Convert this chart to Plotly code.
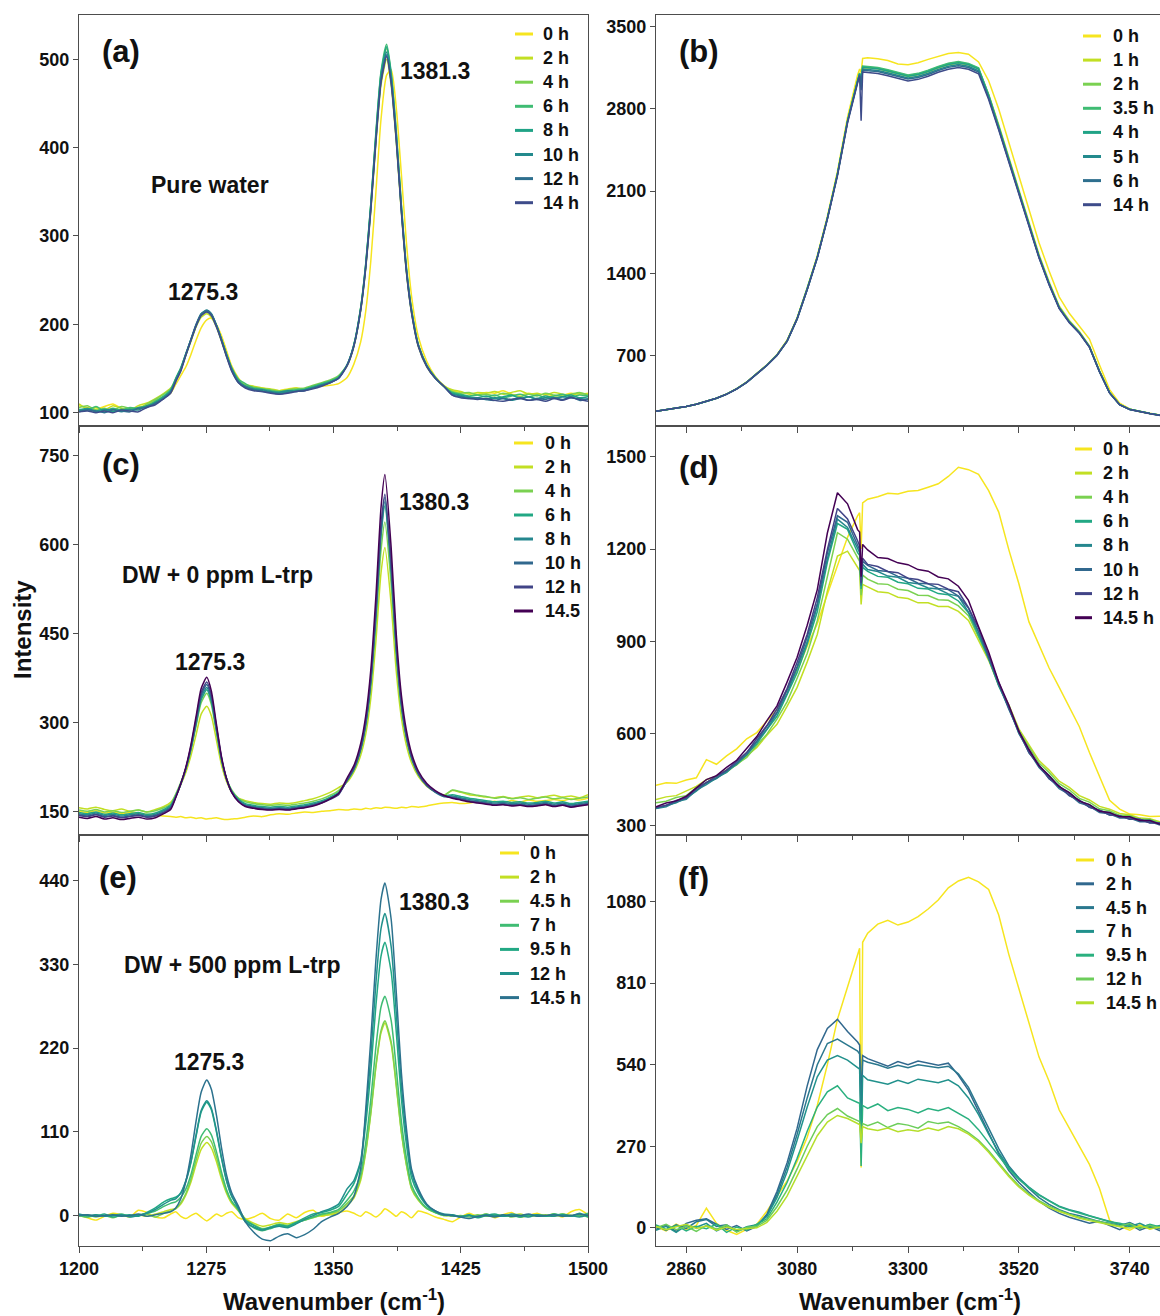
import plotly.graph_objects as go

# ---------------------------------------------------------------- wavenumber grids (cm^-1)
wn_a = [1200, 1205, 1210, 1215, 1220, 1225, 1230, 1235, 1240, 1245, 1250, 1254,
        1257, 1260, 1263, 1266, 1269, 1272, 1275.3, 1278, 1281, 1284, 1287, 1290, 1294,
        1298, 1303, 1308, 1313, 1318, 1323, 1328, 1333, 1338, 1343, 1348, 1353,
        1358, 1362, 1366, 1369, 1372, 1375, 1378, 1381.3, 1384, 1387, 1390, 1393, 1396, 1400, 1405, 1410, 1415,
        1420, 1425, 1430, 1435, 1440, 1445, 1450, 1455, 1460, 1465, 1470, 1475, 1480, 1485, 1490, 1495, 1500]
wn_ce = [1200, 1205, 1210, 1215, 1220, 1225, 1230, 1235, 1240, 1245, 1250, 1254,
         1257, 1260, 1263, 1266, 1269, 1272, 1275.3, 1278, 1281, 1284, 1287, 1290, 1294,
         1298, 1303, 1308, 1313, 1318, 1323, 1328, 1333, 1338, 1343, 1348, 1353,
         1358, 1362, 1366, 1369, 1372, 1375, 1378, 1380.3, 1384, 1387, 1390, 1393, 1396, 1400, 1405, 1410, 1415,
         1420, 1425, 1430, 1435, 1440, 1445, 1450, 1455, 1460, 1465, 1470, 1475, 1480, 1485, 1490, 1495, 1500]
wn_r = [2800, 2820, 2840, 2860, 2880, 2900, 2920, 2940, 2960, 2980, 3000, 3020, 3040, 3060, 3080,
        3100, 3120, 3140, 3160, 3180, 3200, 3204, 3207, 3210,
        3220, 3240, 3260, 3280, 3300, 3320, 3340, 3360, 3380, 3400, 3420, 3440, 3460, 3480, 3500,
        3520, 3540, 3560, 3580, 3600, 3620, 3640, 3660, 3680, 3700, 3720, 3740, 3760, 3780, 3800]

# ---------------------------------------------------------------- (a) pure water, low-frequency band
labels_a = ["0 h", "2 h", "4 h", "6 h", "8 h", "10 h", "12 h", "14 h"]
colors_a = ["#f6e51f", "#c2df23", "#7ad151", "#3fbc73", "#20a386", "#238a8d", "#2e6f8e", "#3e4c8a"]
spectra_a = [
    [108, 106, 104, 107, 110, 105, 104, 106, 109, 114, 118, 122,
     132, 142, 152, 166, 182, 196, 205, 207, 200, 187, 170, 153, 139,
     131, 129, 128, 126, 125, 127, 128, 126, 129, 130, 131, 133,
     140, 155, 180, 215, 272, 350, 432, 482, 488, 445, 370, 292, 232, 186, 158, 141, 131,
     125, 123, 122, 121, 123, 122, 125, 121, 120, 122, 120, 121, 119, 120, 122, 121, 122],
    [110, 104, 106, 103, 108, 105, 103, 108, 111, 116, 122, 128,
     137, 149, 165, 181, 197, 208, 212, 208, 197, 181, 164, 149, 136,
     132, 130, 128, 127, 125, 126, 128, 127, 130, 133, 136, 141,
     153, 175, 215, 263, 328, 405, 471, 500, 470, 406, 326, 258, 213, 175, 152, 139, 130,
     126, 124, 121, 123, 122, 124, 121, 123, 125, 121, 122, 120, 123, 121, 120, 122, 121],
    [106, 108, 103, 105, 103, 107, 105, 104, 110, 115, 121, 127,
     138, 150, 166, 182, 198, 210, 214, 210, 198, 182, 165, 150, 137,
     131, 129, 127, 126, 124, 126, 127, 128, 131, 134, 137, 142,
     154, 176, 218, 267, 335, 414, 482, 512, 481, 415, 333, 262, 216, 177, 153, 140, 130,
     124, 122, 123, 120, 121, 119, 122, 120, 118, 121, 119, 122, 120, 119, 121, 123, 120],
    [104, 103, 107, 102, 105, 103, 106, 105, 108, 113, 119, 126,
     139, 151, 167, 183, 199, 211, 215, 211, 199, 183, 166, 151, 138,
     133, 128, 127, 125, 124, 125, 126, 127, 130, 133, 136, 141,
     154, 177, 219, 269, 337, 418, 486, 517, 485, 418, 335, 264, 217, 177, 154, 140, 130,
     123, 121, 119, 120, 118, 120, 117, 119, 121, 118, 120, 117, 119, 121, 118, 120, 119],
    [103, 105, 102, 104, 101, 104, 103, 106, 107, 112, 118, 125,
     137, 149, 166, 183, 199, 212, 216, 212, 199, 183, 165, 149, 135,
     130, 126, 125, 123, 122, 124, 125, 126, 129, 132, 135, 140,
     154, 177, 218, 268, 336, 415, 484, 514, 483, 416, 334, 263, 216, 177, 153, 140, 130,
     122, 120, 118, 117, 119, 116, 118, 120, 116, 118, 116, 119, 117, 118, 120, 117, 118],
    [102, 104, 101, 103, 104, 101, 104, 103, 108, 110, 117, 124,
     138, 150, 167, 183, 199, 211, 215, 211, 199, 183, 166, 150, 136,
     130, 127, 126, 124, 123, 125, 124, 126, 128, 131, 134, 139,
     154, 176, 217, 266, 333, 411, 478, 508, 477, 412, 330, 261, 215, 176, 153, 139, 130,
     121, 119, 117, 116, 115, 117, 116, 114, 116, 118, 115, 117, 116, 118, 117, 116, 115],
    [101, 103, 102, 100, 103, 102, 101, 105, 106, 111, 116, 123,
     136, 148, 166, 183, 200, 212, 216, 212, 199, 182, 164, 148, 134,
     129, 126, 124, 123, 121, 123, 124, 125, 128, 131, 134, 139,
     154, 176, 216, 265, 331, 409, 475, 505, 474, 409, 329, 260, 214, 176, 153, 139, 130,
     120, 118, 116, 117, 115, 114, 116, 115, 117, 114, 116, 115, 117, 115, 118, 114, 116],
    [101, 102, 100, 102, 100, 103, 102, 101, 106, 109, 116, 122,
     135, 147, 165, 182, 198, 210, 214, 210, 197, 181, 163, 147, 134,
     128, 125, 124, 122, 121, 122, 124, 125, 127, 130, 134, 139,
     153, 175, 216, 264, 330, 407, 474, 503, 473, 408, 328, 259, 213, 175, 152, 139, 130,
     120, 117, 116, 115, 116, 114, 113, 115, 116, 114, 115, 113, 116, 114, 117, 115, 113],
]

# ---------------------------------------------------------------- (b) pure water, O-H stretching band
labels_b = ["0 h", "1 h", "2 h", "3.5 h", "4 h", "5 h", "6 h", "14 h"]
colors_b = ["#f6e51f", "#c2df23", "#7ad151", "#3fbc73", "#20a386", "#238a8d", "#2e6f8e", "#3e4c8a"]
spectra_b = [
    [226, 238, 251, 267, 286, 309, 337, 372, 418, 475, 549, 621, 708, 830, 1022, 1275, 1550, 1885, 2268, 2730, 3090,
     3140, 3110, 3230,
     3235, 3228, 3212, 3183, 3177, 3193, 3222, 3248, 3272, 3280, 3266, 3200, 3040, 2800, 2520, 2230, 1950, 1660, 1420, 1200,
     1060, 950, 840, 620, 410, 295, 245, 222, 207, 192],
    [225, 238, 251, 266, 286, 309, 337, 371, 417, 474, 548, 619, 705, 826, 1017, 1269, 1541, 1872, 2250, 2703, 3048,
     3108, 3070, 3150,
     3148, 3142, 3120, 3099, 3076, 3090, 3116, 3149, 3176, 3190, 3176, 3140, 2925, 2665, 2390, 2118, 1835, 1560, 1328, 1122,
     998, 904, 782, 570, 386, 284, 243, 223, 208, 193],
    [226, 238, 250, 267, 285, 309, 336, 371, 417, 473, 547, 618, 704, 824, 1015, 1267, 1539, 1870, 2246, 2699, 3043,
     3103, 3050, 3160,
     3156, 3148, 3128, 3107, 3084, 3098, 3124, 3157, 3184, 3198, 3183, 3145, 2916, 2650, 2373, 2100, 1817, 1544, 1313, 1109,
     988, 896, 776, 565, 383, 282, 242, 222, 207, 192],
    [225, 237, 251, 266, 286, 309, 337, 371, 416, 473, 547, 617, 703, 823, 1014, 1266, 1537, 1868, 2245, 2698, 3045,
     3105, 3060, 3165,
     3161, 3153, 3133, 3112, 3089, 3103, 3129, 3162, 3189, 3203, 3188, 3150, 2920, 2652, 2375, 2102, 1818, 1545, 1314, 1110,
     989, 897, 776, 565, 384, 282, 242, 222, 207, 192],
    [226, 238, 251, 266, 286, 308, 337, 370, 416, 472, 546, 616, 702, 821, 1012, 1263, 1534, 1866, 2242, 2695, 3040,
     3100, 3040, 3155,
     3151, 3143, 3123, 3102, 3079, 3093, 3119, 3152, 3179, 3193, 3178, 3140, 2912, 2645, 2370, 2098, 1815, 1542, 1311, 1108,
     987, 895, 775, 564, 383, 282, 242, 222, 207, 192],
    [225, 238, 250, 267, 285, 309, 336, 371, 416, 472, 546, 617, 702, 822, 1013, 1264, 1535, 1866, 2240, 2692, 3035,
     3095, 3010, 3140,
     3136, 3128, 3108, 3087, 3064, 3078, 3104, 3137, 3164, 3178, 3163, 3125, 2900, 2636, 2363, 2091, 1810, 1538, 1308, 1106,
     985, 894, 774, 563, 382, 281, 241, 221, 206, 191],
    [226, 238, 251, 267, 286, 309, 337, 371, 416, 472, 547, 617, 703, 823, 1014, 1265, 1536, 1866, 2238, 2690, 3030,
     3090, 2960, 3130,
     3126, 3119, 3098, 3078, 3055, 3068, 3094, 3128, 3154, 3168, 3153, 3115, 2893, 2630, 2358, 2088, 1807, 1536, 1306, 1104,
     984, 893, 773, 562, 382, 281, 241, 221, 206, 191],
    [225, 237, 250, 266, 285, 308, 336, 370, 415, 471, 545, 615, 700, 820, 1010, 1260, 1530, 1860, 2230, 2680, 3020,
     3080, 2700, 3115,
     3110, 3102, 3083, 3062, 3038, 3052, 3078, 3112, 3138, 3152, 3138, 3100, 2880, 2620, 2350, 2080, 1800, 1530, 1300, 1100,
     980, 890, 770, 560, 380, 280, 240, 220, 205, 190],
]

# ---------------------------------------------------------------- (c) DW + 0 ppm L-trp, low-frequency band
labels_c = ["0 h", "2 h", "4 h", "6 h", "8 h", "10 h", "12 h", "14.5"]
colors_c = ["#f6e51f", "#c2df23", "#7ad151", "#22a884", "#25878e", "#31688e", "#414487", "#440154"]
spectra_c = [
    [150, 148, 151, 147, 149, 146, 148, 146, 145, 143, 142, 141,
     140, 141, 139, 140, 138, 139, 137, 138, 139, 137, 136, 137, 138,
     140, 142, 141, 144, 146, 145, 147, 149, 148, 150, 151, 153,
     152, 154, 153, 155, 154, 156, 155, 157, 156, 155, 157, 156, 158, 157, 159, 162, 164,
     165, 163, 164, 166, 165, 167, 165, 168, 166, 169, 167, 168, 170, 168, 171, 169, 172],
    [156, 154, 157, 153, 151, 154, 150, 152, 149, 153, 158, 165,
     177, 195, 216, 244, 279, 314, 327, 311, 270, 228, 200, 183, 172,
     168, 165, 163, 162, 164, 163, 165, 168, 171, 176, 182, 190,
     199, 216, 244, 280, 341, 437, 552, 595, 499, 386, 308, 261, 232, 209, 192, 183, 177,
     185, 182, 178, 176, 174, 173, 175, 172, 174, 176, 173, 175, 177, 174, 176, 173, 178],
    [152, 150, 153, 149, 151, 148, 150, 152, 149, 151, 156, 162,
     179, 199, 222, 254, 294, 333, 349, 330, 283, 236, 205, 186, 172,
     166, 163, 161, 160, 161, 160, 162, 164, 167, 171, 177, 185,
     201, 219, 251, 291, 358, 463, 590, 638, 532, 408, 321, 270, 238, 212, 194, 183, 177,
     186, 183, 180, 177, 175, 172, 174, 171, 173, 170, 172, 174, 171, 173, 170, 172, 174],
    [148, 146, 149, 145, 147, 144, 146, 148, 145, 147, 153, 160,
     176, 197, 222, 255, 297, 338, 355, 335, 286, 237, 205, 184, 170,
     163, 160, 158, 157, 158, 157, 159, 161, 164, 168, 174, 182,
     202, 221, 254, 297, 368, 480, 614, 665, 553, 421, 329, 275, 240, 213, 194, 183, 176,
     178, 175, 172, 170, 168, 166, 167, 165, 166, 164, 165, 167, 164, 166, 163, 165, 167],
    [146, 144, 147, 143, 145, 142, 144, 146, 143, 145, 151, 158,
     175, 196, 222, 256, 299, 342, 359, 338, 288, 238, 204, 183, 169,
     161, 158, 156, 155, 156, 155, 157, 159, 162, 166, 172, 180,
     202, 221, 255, 298, 370, 484, 620, 672, 558, 424, 331, 275, 241, 213, 193, 182, 175,
     176, 173, 170, 168, 166, 164, 165, 163, 164, 162, 163, 165, 162, 164, 161, 163, 165],
    [144, 142, 145, 141, 143, 140, 142, 144, 141, 143, 149, 156,
     174, 196, 223, 258, 302, 346, 364, 342, 291, 239, 204, 183, 167,
     160, 157, 155, 154, 155, 154, 156, 158, 161, 165, 171, 179,
     202, 222, 256, 300, 373, 489, 628, 680, 565, 428, 334, 277, 242, 214, 194, 183, 175,
     174, 171, 168, 166, 164, 162, 163, 161, 162, 160, 161, 163, 160, 162, 159, 161, 163],
    [143, 141, 144, 140, 142, 139, 141, 143, 140, 142, 148, 155,
     174, 196, 223, 260, 305, 350, 368, 346, 293, 240, 204, 182, 167,
     159, 156, 154, 153, 154, 153, 155, 157, 160, 164, 170, 178,
     203, 223, 257, 302, 375, 492, 632, 685, 568, 431, 335, 278, 243, 214, 194, 183, 176,
     173, 170, 167, 165, 163, 161, 162, 160, 161, 159, 160, 162, 159, 161, 158, 160, 162],
    [140, 138, 141, 137, 139, 136, 138, 140, 137, 139, 146, 153,
     173, 197, 225, 263, 310, 357, 376, 353, 297, 242, 205, 182, 166,
     158, 155, 153, 152, 153, 152, 154, 156, 159, 164, 171, 180,
     206, 227, 264, 311, 389, 513, 662, 718, 594, 448, 346, 286, 248, 218, 197, 185, 177,
     172, 169, 166, 164, 162, 160, 161, 159, 160, 158, 159, 161, 158, 160, 157, 159, 161],
]

# ---------------------------------------------------------------- (d) DW + 0 ppm L-trp, O-H stretching band
labels_d = ["0 h", "2 h", "4 h", "6 h", "8 h", "10 h", "12 h", "14.5 h"]
colors_d = ["#f6e51f", "#c2df23", "#7ad151", "#22a884", "#25878e", "#31688e", "#414487", "#440154"]
spectra_d = [
    [432, 440, 438, 449, 456, 515, 500, 527, 550, 583, 603, 639, 678, 741, 806, 884, 957, 1053, 1143, 1238, 1308,
     1318, 1200, 1350,
     1362, 1370, 1381, 1379, 1388, 1390, 1401, 1412, 1436, 1466, 1458, 1443, 1390, 1320, 1198, 1087, 963, 887, 813, 750,
     688, 622, 538, 462, 383, 354, 338, 336, 330, 331],
    [385, 394, 398, 412, 428, 450, 461, 482, 498, 527, 555, 594, 630, 688, 750, 833, 922, 1063, 1177, 1193, 1138,
     1130, 1020, 1085,
     1077, 1061, 1058, 1043, 1039, 1025, 1025, 1013, 1013, 997, 968, 902, 838, 757, 693, 615, 563, 512, 481, 445,
     425, 398, 384, 363, 354, 340, 336, 325, 323, 313],
    [375, 380, 392, 398, 424, 440, 460, 474, 500, 522, 562, 598, 647, 703, 780, 860, 967, 1112, 1253, 1232, 1172,
     1160, 1050, 1115,
     1102, 1087, 1085, 1069, 1065, 1050, 1049, 1035, 1033, 1015, 983, 913, 843, 757, 691, 609, 555, 504, 473, 437,
     417, 389, 377, 355, 349, 334, 333, 321, 321, 309],
    [357, 367, 375, 391, 413, 439, 453, 478, 499, 532, 567, 613, 656, 726, 798, 890, 996, 1157, 1283, 1264, 1188,
     1180, 1070, 1140,
     1127, 1111, 1108, 1092, 1087, 1072, 1070, 1055, 1051, 1031, 993, 919, 845, 755, 685, 601, 545, 494, 463, 427,
     408, 380, 369, 348, 343, 329, 329, 317, 318, 306],
    [356, 362, 378, 386, 416, 434, 456, 474, 504, 530, 574, 614, 666, 730, 812, 898, 1014, 1168, 1297, 1270, 1202,
     1188, 1080, 1150,
     1133, 1127, 1112, 1108, 1091, 1087, 1073, 1070, 1054, 1046, 995, 931, 843, 763, 679, 606, 537, 497, 453, 429,
     398, 383, 360, 351, 335, 333, 321, 321, 310, 310],
    [358, 368, 376, 392, 415, 441, 455, 481, 503, 538, 575, 624, 669, 742, 818, 914, 1023, 1187, 1308, 1287, 1210,
     1198, 1085, 1160,
     1147, 1130, 1127, 1111, 1105, 1089, 1087, 1072, 1068, 1047, 1008, 931, 853, 759, 686, 600, 542, 489, 457, 421,
     402, 375, 364, 343, 339, 325, 325, 313, 314, 302],
    [360, 366, 382, 390, 422, 440, 462, 480, 510, 538, 584, 626, 680, 746, 832, 923, 1042, 1198, 1332, 1298, 1227,
     1210, 1090, 1170,
     1150, 1143, 1127, 1123, 1105, 1101, 1087, 1085, 1069, 1061, 1009, 943, 852, 768, 682, 608, 538, 497, 453, 429,
     398, 383, 360, 351, 335, 333, 321, 321, 309, 309],
    [362, 374, 381, 396, 423, 450, 463, 490, 513, 550, 590, 642, 690, 767, 848, 952, 1068, 1252, 1383, 1347, 1263,
     1255, 1110, 1215,
     1197, 1172, 1169, 1155, 1149, 1133, 1128, 1109, 1103, 1079, 1033, 947, 865, 767, 693, 607, 548, 495, 463, 427,
     408, 380, 369, 347, 343, 329, 329, 317, 317, 305],
]

# ---------------------------------------------------------------- (e) DW + 500 ppm L-trp, low-frequency band
labels_e = ["0 h", "2 h", "4.5 h", "7 h", "9.5 h", "12 h", "14.5 h"]
colors_e = ["#f6e51f", "#c2df23", "#7ad151", "#3fbc73", "#22a884", "#21918c", "#2c728e"]
spectra_e = [
    [0, -3, -6, -1, 3, 1, -2, 7, 4, -2, -3, 2,
     5, -1, -4, 0, 3, -2, -7, -3, 2, -1, 3, 5, -3,
     -5, -2, 3, -4, -6, 2, -3, 4, 7, -1, 2, 4,
     6, 3, -1, 5, 2, -2, 3, 9, 4, -1, 5, 2, -3, 6, 3, -2, -5,
     -8, -2, 3, -1, 2, -3, 1, 4, -2, 0, 3, -1, 2, -2, 5, 8, 1],
    [1, -2, 0, -1, 2, -1, 0, 1, -1, 2, 5, 8,
     9, 15, 27, 44, 67, 87, 96, 89, 71, 48, 29, 16, 6,
     -4, -10, -14, -12, -9, -11, -8, -4, -2, 0, 1, 3,
     13, 23, 46, 83, 134, 195, 240, 253, 225, 170, 109, 66, 35, 20, 9, 4, 0,
     0, -1, 1, -2, 0, 1, -1, 0, 2, -1, 0, 1, -1, 2, 0, -1, 1],
    [-1, 1, -2, 0, -3, 1, -1, 0, 2, -2, 3, 6,
     9, 17, 29, 48, 73, 95, 104, 97, 77, 52, 31, 18, 8,
     -5, -12, -17, -15, -11, -13, -9, -6, -3, 1, 3, 6,
     16, 26, 50, 85, 136, 197, 243, 256, 228, 172, 110, 67, 36, 21, 9, 4, 1,
     -1, 0, -2, 1, -1, 0, 1, -2, 0, 1, -1, 0, 2, -1, 0, 1, -2],
    [0, -2, 1, -1, 0, 2, -1, 1, 3, 6, 12, 16,
     18, 24, 35, 54, 80, 104, 114, 106, 84, 57, 34, 19, 7,
     -8, -16, -20, -17, -13, -15, -10, -6, -2, 2, 4, 8,
     20, 32, 55, 96, 153, 222, 274, 288, 256, 193, 124, 75, 40, 23, 10, 4, 0,
     1, -2, 0, -1, 2, -1, 0, 1, -2, 0, 1, -1, 0, 2, -1, 0, 3],
    [1, 0, -1, 2, -2, 0, 1, -1, 4, 10, 18, 22,
     24, 29, 45, 70, 104, 136, 149, 139, 110, 75, 45, 25, 10,
     -6, -13, -18, -15, -12, -14, -9, -3, 2, 4, 7, 12,
     28, 42, 70, 120, 190, 276, 341, 359, 320, 241, 154, 93, 50, 29, 13, 5, 1,
     0, -2, 1, -3, 0, 2, -1, 0, -2, 1, 0, -1, 2, 0, -1, 3, -2],
    [2, 0, 1, -1, 0, 1, -2, 0, 3, 8, 15, 20,
     22, 30, 46, 71, 106, 138, 151, 141, 112, 76, 46, 26, 9,
     -8, -15, -19, -16, -14, -16, -11, -5, 0, 5, 9, 15,
     35, 46, 72, 131, 210, 306, 377, 397, 353, 266, 171, 103, 56, 32, 14, 6, 2,
     1, -1, 0, -2, 1, 0, -1, 2, 0, -2, 1, 0, -1, 1, 0, -2, 1],
    [0, 1, -1, 0, 1, -1, 0, 2, -1, 1, 3, 5,
     10, 22, 45, 80, 124, 162, 178, 166, 132, 89, 53, 30, 12,
     -8, -22, -31, -33, -27, -24, -29, -25, -18, -8, -2, 3,
     12, 25, 62, 140, 232, 336, 415, 437, 389, 293, 188, 114, 61, 35, 15, 6, 1,
     0, -2, -4, -1, 0, -2, 1, -1, 0, 2, -1, 0, 1, -1, 0, 2, 0],
]

# ---------------------------------------------------------------- (f) DW + 500 ppm L-trp, O-H stretching band
labels_f = ["0 h", "2 h", "4.5 h", "7 h", "9.5 h", "12 h", "14.5 h"]
colors_f = ["#f6e51f", "#31688e", "#2a788e", "#21918c", "#2ab07f", "#6ccd5a", "#b5de2b"]
spectra_f = [
    [4, -10, 12, -5, 8, 65, 15, -8, -22, -5, 12, 55, 105, 155, 220, 300, 405, 540, 690, 800, 905,
     925, 200, 945,
     975, 1005, 1018, 1002, 1012, 1030, 1055, 1085, 1125, 1148, 1160, 1145, 1120, 1035, 905, 790, 680, 565, 485, 390,
     330, 268, 210, 130, 25, 5, -8, 10, -4, 6],
    [-5, 10, -12, 15, 25, 30, 12, -5, 8, -10, 5, 45, 120, 215, 330, 470, 590, 660, 690, 650, 615,
     605, 420, 570,
     560, 548, 535, 550, 540, 552, 545, 538, 545, 505, 455, 385, 315, 245, 190, 150, 118, 88, 65, 48,
     35, 25, 15, 22, 8, -6, 12, -8, 5, -10],
    [8, -8, 10, -2, 20, 28, 5, 10, -10, 0, 8, 40, 110, 200, 310, 430, 540, 610, 625, 605, 585,
     575, 350, 555,
     548, 540, 528, 538, 530, 540, 535, 530, 535, 510, 465, 400, 330, 262, 205, 165, 130, 100, 78, 60,
     48, 40, 30, 20, 15, 8, 18, 2, 10, -4],
    [-8, 5, -15, 8, 2, 15, -10, 6, -12, 4, 10, 38, 100, 185, 290, 400, 500, 555, 570, 555, 530,
     525, 260, 505,
     490, 482, 475, 488, 478, 492, 485, 480, 490, 470, 430, 375, 310, 250, 200, 165, 135, 110, 90, 72,
     60, 52, 40, 30, 22, 12, 5, 15, 0, 8],
    [10, -5, 8, -10, 5, -3, 12, -15, 3, -8, 12, 30, 85, 150, 230, 320, 400, 450, 470, 430, 415,
     412, 205, 405,
     395, 410, 388, 398, 392, 380, 395, 388, 398, 380, 360, 325, 282, 238, 195, 160, 132, 108, 88, 70,
     58, 48, 38, 28, 20, 15, 8, 0, 12, 3],
    [0, 12, -6, 5, -12, 8, -4, 10, -14, 2, 5, 25, 70, 125, 195, 270, 335, 375, 395, 370, 355,
     352, 300, 345,
     338, 350, 332, 345, 340, 330, 352, 345, 350, 335, 315, 290, 255, 215, 175, 140, 112, 90, 72, 58,
     45, 35, 28, 20, 12, 6, 14, -2, 8, 0],
    [5, -6, 4, 12, -2, 6, -8, 3, -5, -2, 0, 18, 55, 105, 170, 240, 305, 350, 372, 362, 345,
     342, 280, 335,
     328, 322, 330, 318, 325, 320, 330, 322, 335, 328, 310, 285, 250, 210, 170, 135, 108, 86, 68, 54,
     42, 32, 24, 16, 10, 4, 0, 6, -3, 2],
]

# ---------------------------------------------------------------- page geometry (pixels)
W, H = 1160, 1316
FONT = "Liberation Sans, Arial, sans-serif"
INK = "#111111"
FRAME = "#4d4d4d"
row_px = [(15, 426), (426, 835), (835, 1246)]
col_px = [(79, 588), (656, 1160)]


def fx(p):
    return p / W


def fy(p):
    return 1 - p / H


panels = [
    dict(wn=wn_a, data=spectra_a, labels=labels_a, colors=colors_a, row=0, col=0,
         yr=[85, 550], y0=100, dy=100, tag="(a)", tag_xy=(100, 52),
         leg=(515, 533, 541, 34, 24.1), smooth=True),
    dict(wn=wn_r, data=spectra_b, labels=labels_b, colors=colors_b, row=0, col=1,
         yr=[100, 3600], y0=700, dy=700, tag="(b)", tag_xy=(677, 52),
         leg=(1083, 1101, 1111, 36, 24.1), smooth=False),
    dict(wn=wn_ce, data=spectra_c, labels=labels_c, colors=colors_c, row=1, col=0,
         yr=[110, 800], y0=150, dy=150, tag="(c)", tag_xy=(100, 465),
         leg=(514, 533, 543, 443, 24.0), smooth=True),
    dict(wn=wn_r, data=spectra_d, labels=labels_d, colors=colors_d, row=1, col=1,
         yr=[270, 1600], y0=300, dy=300, tag="(d)", tag_xy=(677, 467),
         leg=(1075, 1092, 1101, 449, 24.1), smooth=False),
    dict(wn=wn_ce, data=spectra_e, labels=labels_e, colors=colors_e, row=2, col=0,
         yr=[-40, 500], y0=0, dy=110, tag="(e)", tag_xy=(97, 877),
         leg=(500, 519, 528, 853, 24.1), smooth=True),
    dict(wn=wn_r, data=spectra_f, labels=labels_f, colors=colors_f, row=2, col=1,
         yr=[-60, 1300], y0=0, dy=270, tag="(f)", tag_xy=(676, 878),
         leg=(1076, 1094, 1104, 860, 23.8), smooth=False),
]

fig = go.Figure()
layout = dict(width=W, height=H, margin=dict(l=0, r=0, t=0, b=0, autoexpand=False),
              paper_bgcolor="white", plot_bgcolor="white", showlegend=False,
              font=dict(family=FONT, color=INK))
annotations = []
shapes = []

for i, p in enumerate(panels):
    n = i + 1
    xa = "x" if n == 1 else f"x{n}"
    ya = "y" if n == 1 else f"y{n}"
    xkey = "xaxis" if n == 1 else f"xaxis{n}"
    ykey = "yaxis" if n == 1 else f"yaxis{n}"

    for vals, color, name in zip(p["data"], p["colors"], p["labels"]):
        fig.add_trace(go.Scatter(
            x=p["wn"], y=vals, mode="lines", name=name, xaxis=xa, yaxis=ya,
            line=dict(color=color, width=1.5, shape="spline" if p["smooth"] else "linear",
                      smoothing=0.6),
            hoverinfo="skip"))

    c0, c1 = col_px[p["col"]]
    r0, r1 = row_px[p["row"]]
    left = p["col"] == 0
    bottom = p["row"] == 2

    layout[xkey] = dict(
        domain=[fx(c0), fx(c1)], anchor=ya, automargin=False,
        range=[1200, 1500] if left else [2800, 3800],
        tick0=1200 if left else 2860, dtick=75 if left else 220,
        ticks="outside", ticklen=6, tickwidth=1.2, tickcolor=FRAME,
        minor=dict(ticks="outside", ticklen=4, tickwidth=1.2, tickcolor=FRAME,
                   tick0=1200 if left else 2860, dtick=37.5 if left else 110, showgrid=False),
        showticklabels=bottom,
        tickfont=dict(family=FONT, size=18, color=INK, weight="bold"),
        showline=True, linecolor=FRAME, linewidth=1.3, mirror=True,
        showgrid=False, zeroline=False)
    layout[ykey] = dict(
        domain=[fy(r1), fy(r0)], anchor=xa, range=p["yr"], automargin=False,
        tick0=p["y0"], dtick=p["dy"],
        ticks="outside", ticklen=5, tickwidth=1.2, tickcolor=FRAME,
        tickfont=dict(family=FONT, size=18, color=INK, weight="bold"),
        showline=True, linecolor=FRAME, linewidth=1.3, mirror=True,
        showgrid=False, zeroline=False)

    # panel tag
    tx, ty = p["tag_xy"]
    annotations.append(dict(text=p["tag"], x=fx(tx), y=fy(ty), xref="paper", yref="paper",
                            xanchor="left", yanchor="middle", showarrow=False,
                            font=dict(family=FONT, size=31, color=INK, weight="bold")))

    # hand-placed legend: short coloured dash + bold label
    lx0, lx1, ltx, ly0, lstep = p["leg"]
    for k, (name, color) in enumerate(zip(p["labels"], p["colors"])):
        yy = ly0 + k * lstep
        shapes.append(dict(type="line", xref="paper", yref="paper",
                           x0=fx(lx0), x1=fx(lx1), y0=fy(yy), y1=fy(yy),
                           line=dict(color=color, width=3)))
        annotations.append(dict(text=name, x=fx(ltx), y=fy(yy), xref="paper", yref="paper",
                                xanchor="left", yanchor="middle", showarrow=False,
                                font=dict(family=FONT, size=18, color=INK, weight="bold")))

# peak positions and sample descriptions
notes = [
    ("1381.3", 435, 71), ("1275.3", 203, 292), ("Pure water", 210, 185),
    ("1380.3", 434, 502), ("1275.3", 210, 662), ("DW + 0 ppm L-trp", 218, 575),
    ("1380.3", 434, 902), ("1275.3", 209, 1062), ("DW + 500 ppm L-trp", 232, 965),
]
for text, cx, cy in notes:
    annotations.append(dict(text=text, x=fx(cx), y=fy(cy), xref="paper", yref="paper",
                            xanchor="center", yanchor="middle", showarrow=False,
                            font=dict(family=FONT, size=23, color=INK, weight="bold")))

# axis titles
for cx in (334, 910):
    annotations.append(dict(text="Wavenumber (cm<sup>-1</sup>)", x=fx(cx), y=fy(1300),
                            xref="paper", yref="paper", xanchor="center", yanchor="middle",
                            showarrow=False,
                            font=dict(family=FONT, size=24, color=INK, weight="bold")))
annotations.append(dict(text="Intensity", x=fx(22), y=fy(630), xref="paper", yref="paper",
                        xanchor="center", yanchor="middle", showarrow=False, textangle=-90,
                        font=dict(family=FONT, size=24, color=INK, weight="bold")))

layout["annotations"] = annotations
layout["shapes"] = shapes
fig.update_layout(**layout)
fig.write_html("out.html")
